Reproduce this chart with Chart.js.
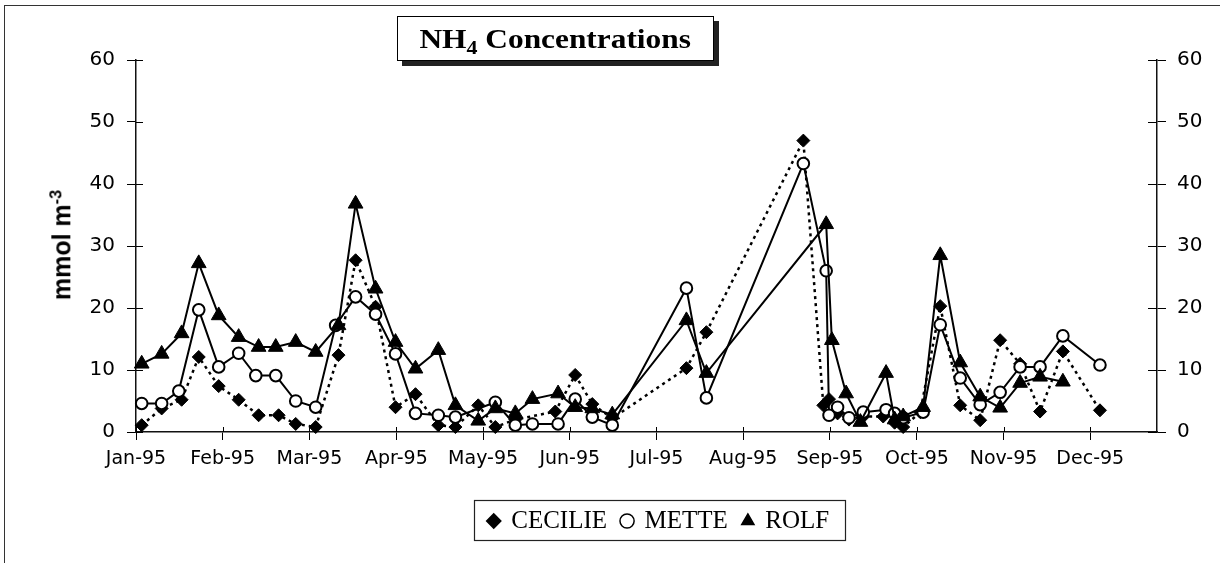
<!DOCTYPE html>
<html>
<head>
<meta charset="utf-8">
<script src="https://cdn.jsdelivr.net/npm/chart.js@4"></script>
<style>
body { margin: 0; background: #fff; }
#wrap { position: relative; width: 1220px; height: 563px; overflow: hidden; }
#frame { position: absolute; left: 4px; top: 5px; width: 1300px; height: 700px; border-left: 1.5px solid #333; border-top: 1.5px solid #333; }
#c { position: absolute; left: 0; top: 0; }
#title { position: absolute; left: 397px; top: 16px; width: 315px; height: 43px; border: 1.5px solid #000; background: #fff;
  box-shadow: 5px 5px 0 #222; font: bold 28px "Liberation Serif"; display: flex; align-items: center; justify-content: center; }
#title span { display: inline-block; transform: scaleX(1.12); }
#title sub { font-size: 70%; vertical-align: -0.3em; line-height: 0; }
#ytitle { position: absolute; left: 59px; top: 245px; transform: translate(-50%, -50%) rotate(-90deg);
  font: bold 25px "Liberation Sans"; line-height: 25px; white-space: nowrap; }
#ytitle sup { font-size: 65%; }
</style>
</head>
<body>
<div id="wrap">
  <div id="frame"></div>
  <canvas id="c" width="1220" height="563"></canvas>
  <div id="title"><span>NH<sub>4</sub> Concentrations</span></div>
  <div id="ytitle">mmol m<sup>-3</sup></div>
</div>
<script>
// x = days since 1 Jan 1995, y = mmol m-3
const monthLabels = ['Jan-95', 'Feb-95', 'Mar-95', 'Apr-95', 'May-95', 'Jun-95',
                     'Jul-95', 'Aug-95', 'Sep-95', 'Oct-95', 'Nov-95', 'Dec-95'];
const monthStarts = [0, 30.4, 60.8, 91.3, 121.7, 152.1, 182.5, 212.9, 243.3, 273.8, 304.2, 334.6];

const cecilieDays = [2, 9, 16, 22, 29, 36, 43, 50, 56, 63, 71, 77, 84, 91, 98, 106, 112, 120, 126, 133,
                     147, 154, 160, 167, 193, 200, 234, 241, 243, 246, 250, 255, 262, 266, 269, 275, 282, 289, 296, 303,
                     310, 317, 325, 338];
const cecilieVals = [1.1, 3.8, 5.2, 12.1, 7.4, 5.2, 2.7, 2.7, 1.3, 0.8, 12.4, 27.7, 20.2, 4.0, 6.1, 1.1, 0.8, 4.3, 0.8, 2.0,
                     3.3, 9.2, 4.5, 2.2, 10.3, 16.1, 47.0, 4.3, 5.3, 3.0, 2.0, 2.5, 2.5, 1.5, 0.8, 3.2, 20.3, 4.3, 1.9, 14.8,
                     11.0, 3.3, 13.0, 3.5];

const metteDays = [2, 9, 15, 22, 29, 36, 42, 49, 56, 63, 70, 77, 84, 91, 98, 106, 112, 126, 133, 139,
                   148, 154, 160, 167, 193, 200, 234, 242, 243, 246, 250, 255, 263, 266, 269, 276, 282, 289, 296, 303,
                   310, 317, 325, 338];
const metteVals = [4.6, 4.6, 6.6, 19.7, 10.5, 12.7, 9.1, 9.1, 5.0, 4.0, 17.2, 21.8, 19.0, 12.6, 3.0, 2.7, 2.4, 4.8, 1.1, 1.3,
                   1.3, 5.3, 2.4, 1.1, 23.2, 5.5, 43.3, 26.0, 2.7, 4.0, 2.3, 3.2, 3.6, 3.0, 2.3, 3.2, 17.3, 8.7, 4.4, 6.4,
                   10.5, 10.5, 15.5, 10.8];

const rolfDays = [2, 9, 16, 22, 29, 36, 43, 49, 56, 63, 71, 77, 84, 91, 98, 106, 112, 120, 126, 133,
                  139, 148, 154, 160, 167, 193, 200, 242, 244, 249, 254, 263, 266, 269, 276, 282, 289, 296, 303, 310,
                  317, 325];
const rolfVals = [11.0, 12.6, 15.9, 27.2, 18.8, 15.3, 13.7, 13.7, 14.5, 12.9, 17.2, 36.8, 23.1, 14.5, 10.2, 13.2, 4.3, 1.8, 3.8, 3.0,
                  5.3, 6.2, 4.0, 3.8, 2.8, 18.0, 9.5, 33.5, 14.8, 6.2, 1.6, 9.5, 2.0, 2.5, 4.0, 28.5, 11.2, 5.7, 3.9, 7.9,
                  8.9, 8.1];

const yTicks = [0, 10, 20, 30, 40, 50, 60];

function pts(days, vals) {
    return days.map((d, i) => ({x: d, y: vals[i]}));
}

const markerFill = ['#000', '#fff', '#000'];

// inner half of the crossing tick marks, and the box round the legend
const axisMarks = {
    id: 'axisMarks',
    afterLayout(chart) {
        chart.legend.left += 49;
        chart.legend.right += 49;
    },
    afterDraw(chart) {
        const {ctx, chartArea: a, scales} = chart;
        ctx.save();
        ctx.strokeStyle = '#000';
        ctx.lineWidth = 1;
        ctx.beginPath();
        scales.x.ticks.forEach(t => {
            const px = Math.round(scales.x.getPixelForValue(t.value)) + 0.5;
            ctx.moveTo(px, a.bottom);
            ctx.lineTo(px, a.bottom - 5);
        });
        scales.y.ticks.forEach(t => {
            const py = Math.round(scales.y.getPixelForValue(t.value)) + 0.5;
            ctx.moveTo(a.left, py);
            ctx.lineTo(a.left + 7, py);
        });
        scales.y2.ticks.forEach(t => {
            const py = Math.round(scales.y2.getPixelForValue(t.value)) + 0.5;
            ctx.moveTo(a.right, py);
            ctx.lineTo(a.right - 9, py);
        });
        ctx.stroke();

        const hb = chart.legend.legendHitBoxes;
        if (hb && hb.length) {
            const last = hb[hb.length - 1];
            const l = hb[0].left - 15, r = last.left + last.width + 15;
            const t = hb[0].top - 8.5, b = hb[0].top + hb[0].height + 6.5;
            ctx.lineWidth = 1.2;
            ctx.strokeStyle = '#222';
            ctx.strokeRect(Math.round(l) + 0.5, Math.round(t) + 0.5, Math.round(r - l), Math.round(b - t));
        }
        ctx.restore();
    }
};

const tickFont = {family: 'DejaVu Sans', size: 20};

new Chart(document.getElementById('c').getContext('2d'), {
    type: 'line',
    data: {
        datasets: [{
            label: 'CECILIE',
            data: pts(cecilieDays, cecilieVals),
            borderColor: '#000',
            backgroundColor: '#000',
            borderWidth: 2.5,
            borderDash: [3, 4],
            pointStyle: 'rectRot',
            pointRadius: 6.5,
            pointBackgroundColor: '#000',
            pointBorderColor: '#000',
            pointBorderWidth: 1,
            order: 2,
            clip: false
        }, {
            label: 'METTE',
            data: pts(metteDays, metteVals),
            borderColor: '#000',
            backgroundColor: '#fff',
            borderWidth: 2,
            pointStyle: 'circle',
            pointRadius: 5.8,
            pointBackgroundColor: '#fff',
            pointBorderColor: '#000',
            pointBorderWidth: 2,
            order: 1,
            clip: false
        }, {
            label: 'ROLF',
            data: pts(rolfDays, rolfVals),
            borderColor: '#000',
            backgroundColor: '#000',
            borderWidth: 2,
            pointStyle: 'triangle',
            pointRadius: 8.5,
            pointBackgroundColor: '#000',
            pointBorderColor: '#000',
            pointBorderWidth: 1,
            order: 0,
            clip: false
        }]
    },
    options: {
        responsive: false,
        animation: false,
        devicePixelRatio: 1,
        layout: {padding: {top: 60, left: 0, right: 0, bottom: 19.5}},
        elements: {line: {tension: 0, fill: false}},
        scales: {
            x: {
                type: 'linear',
                min: 0,
                max: 358,
                afterBuildTicks: s => { s.ticks = monthStarts.map(v => ({value: v})); },
                afterFit: s => { s.height = 61.5; },
                ticks: {
                    autoSkip: false,
                    maxRotation: 0,
                    padding: 8,
                    color: '#000',
                    font: {family: 'DejaVu Sans', size: 19},
                    callback: (v, i) => monthLabels[i]
                },
                grid: {drawOnChartArea: false, drawTicks: true, tickLength: 8, color: '#000'},
                border: {display: true, color: '#111', width: 1.5}
            },
            y: {
                position: 'left',
                min: 0,
                max: 60,
                afterBuildTicks: s => { s.ticks = yTicks.map(v => ({value: v})); },
                afterFit: s => { s.width = 136; },
                ticks: {padding: 12, color: '#000', font: tickFont},
                grid: {drawOnChartArea: false, drawTicks: true, tickLength: 9, color: '#000'},
                border: {display: true, color: '#111', width: 1.5}
            },
            y2: {
                position: 'right',
                min: 0,
                max: 60,
                afterBuildTicks: s => { s.ticks = yTicks.map(v => ({value: v})); },
                afterFit: s => { s.width = 63; },
                ticks: {padding: 11, color: '#000', font: tickFont},
                grid: {drawOnChartArea: false, drawTicks: true, tickLength: 9, color: '#000'},
                border: {display: true, color: '#111', width: 1.5}
            }
        },
        plugins: {
            title: {display: false},
            tooltip: {enabled: false},
            legend: {
                position: 'bottom',
                labels: {
                    usePointStyle: true,
                    boxWidth: 10,
                    boxHeight: 10,
                    padding: 15,
                    color: '#000',
                    font: {family: 'Liberation Serif', size: 25},
                    sort: (a, b) => a.datasetIndex - b.datasetIndex,
                    generateLabels(chart) {
                        const items = Chart.defaults.plugins.legend.labels.generateLabels(chart);
                        items.forEach(it => {
                            it.lineDash = [];
                            it.lineWidth = 1.5;
                            it.strokeStyle = '#000';
                            it.fillStyle = markerFill[it.datasetIndex];
                        });
                        return items;
                    }
                }
            }
        }
    },
    plugins: [axisMarks]
});
</script>
</body>
</html>
